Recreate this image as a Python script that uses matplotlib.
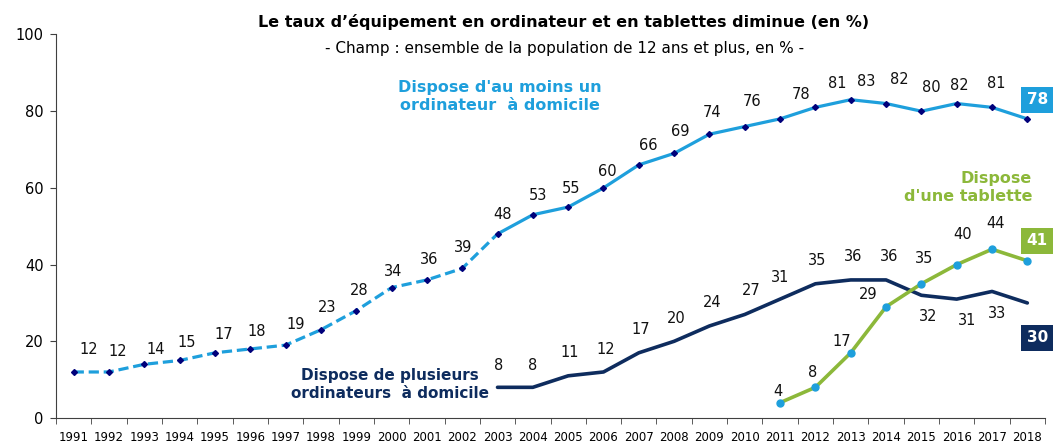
import numpy as np
import matplotlib.pyplot as plt

# données
annees = list(range(1991, 2019))
au_moins_un = [12, 12, 14, 15, 17, 18, 19, 23, 28, 34, 36, 39, 48, 53,
               55, 60, 66, 69, 74, 76, 78, 81, 83, 82, 80, 82, 81, 78]
annees_plusieurs = list(range(2003, 2019))
plusieurs = [8, 8, 11, 12, 17, 20, 24, 27, 31, 35, 36, 36, 32, 31, 33, 30]
annees_tablette = list(range(2011, 2019))
tablette = [4, 8, 17, 29, 35, 40, 44, 41]

# décalages des étiquettes (pixels)
off_un = [(15, 22), (9, 20), (11, 15), (7, 18), (9, 18), (6, 17), (10, 21),
          (6, 22), (3, 20), (2, 16), (2, 20), (1, 21), (5, 19), (5, 19),
          (3, 19), (4, 16), (9, 19), (6, 22), (3, 22), (7, 25), (21, 24),
          (22, 24), (15, 18), (13, 24), (10, 24), (3, 18), (4, 24)]
off_plus = [(1, 22), (0, 22), (2, 23), (2, 22), (2, 23), (2, 23), (3, 23),
            (6, 24), (0, 22), (2, 23), (2, 23), (3, 23), (7, -21), (10, -21),
            (5, -22)]
off_tab = [(-2, 11), (-3, 15), (-9, 11), (-18, 12), (3, 25), (6, 30), (4, 26)]

BLEU = '#1E9FDC'
MARINE = '#0E2C5E'
VERT = '#8CB83A'

fig = plt.figure(figsize=(10.53, 4.44), dpi=100)
ax = fig.add_axes([56 / 1053, 26 / 444, 989 / 1053, 383.5 / 444])

x_un = np.array(annees) - 1991
x_plus = np.array(annees_plusieurs) - 1991
x_tab = np.array(annees_tablette) - 1991

# au moins un ordinateur : pointillés jusqu'en 2003, puis trait plein
ax.plot(x_un[:13], au_moins_un[:13], color=BLEU, lw=2.3, ls=(0, (3.2, 1.5)),
        zorder=4)
ax.plot(x_un[12:], au_moins_un[12:], color=BLEU, lw=2.3, zorder=4,
        solid_capstyle='round')
ax.plot(x_un, au_moins_un, ls='none', marker='D', ms=3, color='#00007A',
        zorder=5)

ax.plot(x_plus, plusieurs, color=MARINE, lw=2.6, zorder=2,
        solid_capstyle='round')

ax.plot(x_tab, tablette, color=VERT, lw=2.6, zorder=3,
        marker='o', ms=5, mfc=BLEU, mec=BLEU)

# étiquettes de valeurs
for xi, v, o in zip(x_un[:-1], au_moins_un[:-1], off_un):
    ax.annotate(str(v), (xi, v), xytext=o, textcoords='offset pixels',
                ha='center', va='center', fontsize=10.5, color='#111111')
for xi, v, o in zip(x_plus[:-1], plusieurs[:-1], off_plus):
    ax.annotate(str(v), (xi, v), xytext=o, textcoords='offset pixels',
                ha='center', va='center', fontsize=10.5, color='#111111')
for xi, v, o in zip(x_tab[:-1], tablette[:-1], off_tab):
    ax.annotate(str(v), (xi, v), xytext=o, textcoords='offset pixels',
                ha='center', va='center', fontsize=10.5, color='#111111')

# dernières valeurs dans des cartouches
for xi, v, col, o in [(x_un[-1], au_moins_un[-1], BLEU, (10, 19)),
                      (x_tab[-1], tablette[-1], VERT, (10, 20)),
                      (x_plus[-1], plusieurs[-1], MARINE, (10, -35))]:
    ax.annotate(str(v), (xi, v), xytext=o, textcoords='offset pixels',
                ha='center', va='center', fontsize=11, fontweight='bold',
                color='white', annotation_clip=False,
                bbox=dict(boxstyle='square,pad=0.35', fc=col, ec='none'))

# légendes des séries
fig.text(500 / 1053, 1 - 96.5 / 444, "Dispose d'au moins un\nordinateur  à domicile",
         ha='center', va='center', fontsize=11.5, fontweight='bold',
         color=BLEU, linespacing=1.25)
fig.text(390 / 1053, 1 - 384.5 / 444, "Dispose de plusieurs\nordinateurs  à domicile",
         ha='center', va='center', fontsize=11, fontweight='bold',
         color=MARINE, linespacing=1.3)
fig.text(1032 / 1053, 1 - 187 / 444, "Dispose\nd'une tablette",
         ha='right', va='center', fontsize=11.5, fontweight='bold',
         color=VERT, linespacing=1.25)

# titres
fig.text(564 / 1053, 1 - 22 / 444,
         "Le taux d’équipement en ordinateur et en tablettes diminue (en %)",
         ha='center', va='center', fontsize=11.5, fontweight='bold')
fig.text(565 / 1053, 1 - 49 / 444,
         "- Champ : ensemble de la population de 12 ans et plus, en % -",
         ha='center', va='center', fontsize=11)

# axes
ax.set_xlim(-0.5, len(annees) - 0.5)
ax.set_ylim(0, 100)
ax.set_yticks(range(0, 101, 20))
ax.tick_params(axis='y', labelsize=10.5, length=4, pad=5, color='#404040')
ax.set_xticks(x_un)
ax.set_xticklabels([str(a) for a in annees])
ax.tick_params(axis='x', which='major', length=0, labelsize=8.5, pad=9)
ax.set_xticks(np.arange(-0.5, len(annees)), minor=True)
ax.tick_params(axis='x', which='minor', length=4, color='#404040')
for s in ['top', 'right']:
    ax.spines[s].set_visible(False)
for s in ['left', 'bottom']:
    ax.spines[s].set_color('#404040')

fig.savefig('out.png', dpi=100)
